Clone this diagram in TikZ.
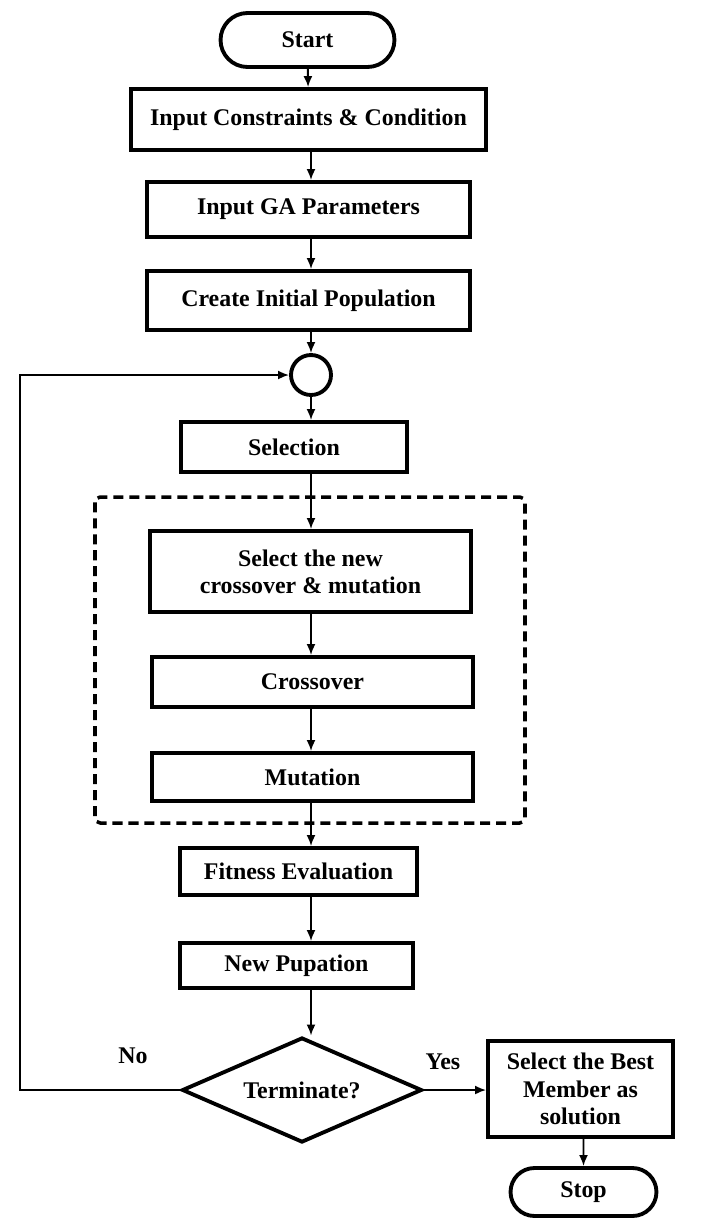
\documentclass[tikz,border=0pt]{standalone}
\usepackage{fontspec}
\setmainfont{Liberation Serif}
\usetikzlibrary{arrows.meta, positioning, shapes.geometric, shapes.misc}

\begin{document}
\begin{tikzpicture}[x=0.02cm, y=-0.02cm, >={Latex[length=2.2mm,width=1.8mm]},
  box/.style={draw, line width=2.2pt, fill=white, inner sep=2pt,
              font=\fontsize{13.6}{15.5}\selectfont\bfseries, align=center},
  terminal/.style={box, rounded rectangle},
  decision/.style={box, diamond, aspect=2.3, inner sep=0pt,
                   minimum width=4.8cm, minimum height=2.1cm},
  joint/.style={draw, circle, line width=2.2pt, minimum size=0.8cm, inner sep=0pt},
  arr/.style={->, line width=1.1pt},
  group/.style={draw, line width=2pt, dash pattern=on 5.7pt off 3.4pt, rounded corners=3pt},
  lbl/.style={font=\fontsize{13.6}{15.5}\selectfont\bfseries}]
  \useasboundingbox (0,0) rectangle (709,1218);
  % main column
  \node[terminal, minimum width=3.62cm, minimum height=1.08cm] (start) at (307.5,40) {Start};
  \node[box, minimum width=7.1cm, minimum height=1.22cm] (cons) at (308.5,119.5) {Input Constraints \& Condition};
  \node[box, minimum width=6.46cm, minimum height=1.1cm] (param) at (308.5,209.5) {Input GA Parameters};
  \node[box, minimum width=6.46cm, minimum height=1.18cm] (init) at (308.5,300.5) {Create Initial Population};
  \node[joint] (merge) at (311,375) {};
  \node[box, minimum width=4.52cm, minimum height=1cm] (sel) at (294,447) {Selection};
  % operators inside the dashed frame
  \draw[group] (95,497) rectangle (525,823);
  \node[box, minimum width=6.42cm, minimum height=1.62cm] (pick) at (310.5,571.5) {Select the new\\crossover \& mutation};
  \node[box, minimum width=6.42cm, minimum height=1cm] (cross) at (312.5,682) {Crossover};
  \node[box, minimum width=6.42cm, minimum height=0.96cm] (mut) at (312.5,777) {Mutation};
  \node[box, minimum width=4.74cm, minimum height=0.94cm] (fit) at (298.5,871.5) {Fitness Evaluation};
  \node[box, minimum width=4.66cm, minimum height=0.9cm] (newpop) at (296.5,965.5) {New Pupation};
  \node[decision] (term) at (302,1090) {Terminate?};
  \node[box, minimum width=3.7cm, minimum height=1.92cm] (best) at (580.5,1089) {Select the Best\\Member as\\solution};
  \node[terminal, minimum width=3.06cm, minimum height=0.96cm] (stop) at (583.5,1192) {Stop};
  \coordinate (back) at (20,1090);
  \node[lbl] (no) at (133,1056) {No};
  \node[lbl] (yes) at (443,1062) {Yes};
  % connectors
  \draw[arr] (start) -- (cons);
  \draw[arr] (cons.south -| merge) -- (param.north -| merge);
  \draw[arr] (param.south -| merge) -- (init.north -| merge);
  \draw[arr] (init.south -| merge) -- (merge);
  \draw[arr] (merge) -- (sel.north -| merge);
  \draw[arr] (sel.south -| merge) -- (pick.north -| merge);
  \draw[arr] (pick.south -| merge) -- (cross.north -| merge);
  \draw[arr] (cross.south -| merge) -- (mut.north -| merge);
  \draw[arr] (mut.south -| merge) -- (fit.north -| merge);
  \draw[arr] (fit.south -| merge) -- (newpop.north -| merge);
  \draw[arr] (newpop.south -| merge) -- (term.north -| merge);
  \draw[arr] (term.east) -- (best.west |- term.east);
  \draw[arr] (best.south -| stop) -- (stop);
  \draw[arr] (term.west) -- (back) |- (merge.west);
\end{tikzpicture}
\end{document}
